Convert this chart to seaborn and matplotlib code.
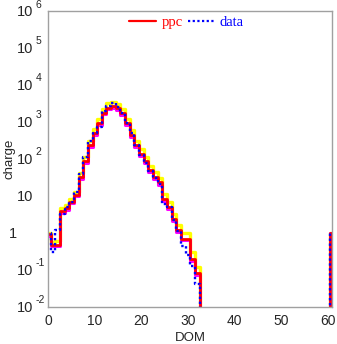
import numpy as np
import pandas as pd
import matplotlib
matplotlib.use("Agg")
import matplotlib.pyplot as plt
import matplotlib.transforms as mtransforms
import seaborn as sns
from matplotlib.lines import Line2D
from matplotlib.ticker import FixedLocator, LogLocator, NullFormatter

# ---- data (histogram bins centred on integer DOM numbers) ----
dom = list(range(0, 33)) + [61]
ppc = [0.9, 0.48, 0.48, 3.8, 4.7, 7.0, 10.7, 33, 85, 240, 490, 915, 1780, 2450,
       2700, 2330, 1750, 915, 450, 230, 138, 85, 50, 33, 23, 8.3, 5.1, 2.4,
       1.2, 0.7, 0.7, 0.2, 0.08, 1.0]
ppc_up = [1.0, 0.58, 0.6, 4.6, 5.6, 8.4, 13, 42, 110, 310, 640, 1200, 2300, 3200,
          3500, 3000, 2250, 1200, 590, 300, 180, 110, 65, 43, 30, 11, 6.7, 3.2,
          1.6, 1.0, 1.0, 0.3, 0.12, 1.0]
ppc_lo = [0.8, 0.43, 0.43, 3.4, 4.2, 6.3, 9.6, 29, 76, 215, 440, 820, 1600, 2200,
          2420, 2100, 1570, 820, 400, 205, 123, 76, 44, 29, 20, 7.4, 4.5, 2.1,
          1.05, 0.62, 0.62, 0.17, 0.07, 1.0]
data = [1.0, 0.3, 1.2, 3.2, 5.0, 7.0, 13, 40, 115, 295, 510, 750, 2000, 2700,
        3150, 2580, 1750, 950, 490, 230, 128, 75, 46, 30, 21, 6.0, 5.0, 2.2,
        1.1, 0.45, 0.25, 0.13, 0.04, 1.0]

x_ticks = [0, 10, 20, 30, 40, 50, 60]
y_exponents = [-2, -1, 0, 1, 2, 3, 4, 5, 6]

# full histogram table (empty bins are zero)
centers = np.arange(0, 62)
def full(vals):
    out = np.zeros(len(centers))
    for d, v in zip(dom, vals):
        out[d] = v
    return out

df = pd.DataFrame({"DOM": centers, "ppc": full(ppc), "up": full(ppc_up),
                   "lo": full(ppc_lo), "data": full(data)})

sns.set_style("white")
plt.rcParams["font.family"] = ["Liberation Sans", "DejaVu Sans"]

W, H = 337, 344
fig = plt.figure(figsize=(W / 100, H / 100), dpi=100)
x0, x1, ytop, ybot = 48.3, 332.3, 11.0, 306.7
ax = fig.add_axes([x0 / W, 1 - ybot / H, (x1 - x0) / W, (ybot - ytop) / H])

def draw(col, color, **kw):
    sns.histplot(data=df, x="DOM", weights=col, discrete=True, element="step",
                 fill=False, color=color, ax=ax, **kw)

draw("up", "#ffff00", lw=2.4)
draw("lo", "#ff00ff", lw=2.2)
draw("ppc", "#ff0000", lw=2.0)
draw("data", "#0000ff", lw=1.7, linestyle=(0, (1, 1.1)))

ax.set_yscale("log")
ax.set_xlim(0, 61)
ax.set_ylim(1e-2, 1e6)

gray = "#a0a0a0"
for s in ax.spines.values():
    s.set_color(gray)
    s.set_linewidth(1.0)

ax.xaxis.set_major_locator(FixedLocator(x_ticks))
ax.xaxis.set_minor_locator(FixedLocator(np.arange(0, 61, 2)))
ax.yaxis.set_major_locator(FixedLocator([10.0 ** k for k in y_exponents]))
ax.yaxis.set_minor_locator(LogLocator(base=10, subs=np.arange(2, 10), numticks=20))
ax.yaxis.set_minor_formatter(NullFormatter())
ax.set_yticklabels([])

ax.tick_params(axis="both", which="both", direction="in", color=gray,
               top=False, right=False)
ax.tick_params(axis="x", which="major", length=6, labelsize=10, pad=5)
ax.tick_params(axis="x", which="minor", length=3)
ax.tick_params(axis="y", which="major", length=7)
ax.tick_params(axis="y", which="minor", length=3)

# y tick labels, ROOT style: "10" with a detached exponent
def place(dy_px):
    return (mtransforms.blended_transform_factory(fig.transFigure, ax.transData)
            + mtransforms.ScaledTranslation(0, dy_px / 100, fig.dpi_scale_trans))

for k in y_exponents:
    v = 10.0 ** k
    if k == 0:
        fig.text(9 / W, v, "1", ha="left", va="center", fontsize=10.5,
                 transform=place(-1.5))
        continue
    fig.text(16.5 / W, v, "10", ha="left", va="center", fontsize=10.5,
             transform=place(-1.5))
    if k != 1:
        fig.text(35.5 / W, v, "%d" % k, ha="left", va="center", fontsize=7.5,
                 transform=place(6.5))

ax.set_xlabel("DOM", fontsize=9.5, va="top")
ax.set_ylabel("charge", fontsize=9.5)
ax.xaxis.set_label_coords(0.5, -0.087)
ax.yaxis.set_label_coords(-0.116, 0.5)

handles = [Line2D([], [], color="#ff0000", lw=1.6),
           Line2D([], [], color="#0000ff", lw=1.6, linestyle=(0, (1, 1.1)))]
leg = ax.legend(handles, ["ppc", "data"], loc="center",
                bbox_to_anchor=(0.487, 0.962), ncol=2, frameon=False,
                handlelength=1.85, handletextpad=0.35, columnspacing=0.35,
                borderpad=0, borderaxespad=0,
                prop={"family": "Liberation Serif", "size": 10.5})
for t, c in zip(leg.get_texts(), ["#ff0000", "#0000ff"]):
    t.set_color(c)

fig.savefig("out.png", dpi=100)
